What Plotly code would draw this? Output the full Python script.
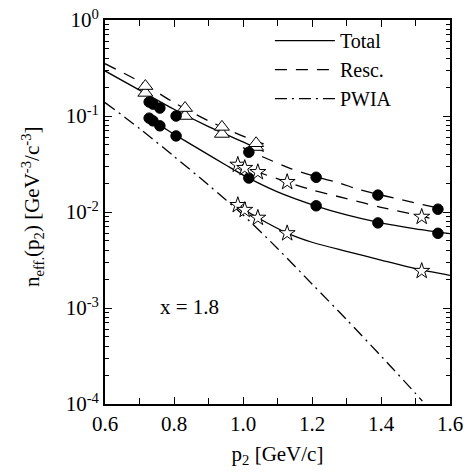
import plotly.graph_objects as go

# ---------------- data ----------------
# Theory curves
tri_curve_p = [0.60, 0.70, 0.80, 0.90, 1.00, 1.06]
tri_total_curve = [0.295, 0.186, 0.1175, 0.0776, 0.0537, 0.0427]
tri_resc_curve = [0.351, 0.229, 0.138, 0.0891, 0.0617, 0.0513]

circ_total_p = [0.72, 0.76, 0.80, 0.875, 0.95, 1.01, 1.10, 1.21, 1.30, 1.39, 1.50, 1.60]
circ_total_curve = [0.0955, 0.0794, 0.0646, 0.0447, 0.0309, 0.0232, 0.0162, 0.01161,
                    0.00933, 0.00785, 0.00668, 0.00596]
circ_resc_p = [1.00, 1.06, 1.14, 1.21, 1.28, 1.34, 1.48, 1.58]
circ_resc_curve = [0.0468, 0.0372, 0.0282, 0.0234, 0.0200, 0.0170, 0.0129, 0.0107]

star_resc_p = [0.98, 1.04, 1.13, 1.20, 1.30, 1.40, 1.50, 1.56]
star_resc_curve = [0.0316, 0.0263, 0.0204, 0.0170, 0.0138, 0.0112, 0.00933, 0.00832]
star_total_p = [0.986, 1.006, 1.043, 1.128, 1.20, 1.30, 1.40, 1.50, 1.60]
star_total_curve = [0.01183, 0.0105, 0.00871, 0.00603, 0.00484, 0.00389, 0.00316,
                    0.00257, 0.00219]

pwia_p = [0.60, 0.70, 0.80, 0.90, 1.00, 1.10, 1.20, 1.30, 1.40, 1.50, 1.52]
pwia_curve = [0.138, 0.0741, 0.0380, 0.0191, 0.00933, 0.00417, 0.00178, 0.000759,
              0.000316, 0.000129, 0.000107]

# Point symbols
circ_x = [0.728, 0.739, 0.759, 0.806, 1.017, 1.212, 1.391, 1.565]
circ_resc = [0.140, 0.133, 0.121, 0.100, 0.042, 0.023, 0.015, 0.0107]
circ_total = [0.095, 0.089, 0.079, 0.062, 0.0226, 0.0116, 0.0077, 0.0060]

tri_x = [0.717, 0.832, 0.939, 1.038]
tri_resc = [0.205, 0.121, 0.077, 0.052]
tri_total = [0.174, 0.100, 0.065, 0.0475]

star_x = [0.985, 1.005, 1.043, 1.128, 1.518]
star_resc = [0.031, 0.0287, 0.026, 0.0205, 0.0089]
star_total = [0.0118, 0.0105, 0.0087, 0.0060, 0.00243]

x_ticks = [0.6, 0.8, 1.0, 1.2, 1.4, 1.6]
x_ticklabels = ["0.6", "0.8", "1.0", "1.2", "1.4", "1.6"]
x_minor = [0.7, 0.9, 1.1, 1.3, 1.5]
y_ticks = [1e-4, 1e-3, 1e-2, 1e-1, 1e0]
y_ticklabels = ["10<sup>-4</sup>", "10<sup>-3</sup>", "10<sup>-2</sup>",
                "10<sup>-1</sup>", "10<sup>0</sup>"]
y_minor = [m * d for d in [1e-4, 1e-3, 1e-2, 1e-1] for m in range(2, 10)]

FONT = "Liberation Serif"
LW = 1.3
DASH = "12px,9px"
DASHDOT = "12px,5px,2px,5px"

fig = go.Figure()

def line(x, y, dash, name=None, show=False):
    fig.add_trace(go.Scatter(
        x=x, y=y, mode="lines", name=name, showlegend=show,
        line=dict(color="black", width=LW, dash=dash, shape="spline", smoothing=0.8),
        hoverinfo="skip"))

line(tri_curve_p, tri_total_curve, "solid", "Total", True)
line(tri_curve_p, tri_resc_curve, DASH, "Resc.", True)
line(pwia_p, pwia_curve, DASHDOT, "PWIA", True)
line(circ_total_p, circ_total_curve, "solid")
line(circ_resc_p, circ_resc_curve, DASH)
line(star_resc_p, star_resc_curve, DASH)
line(star_total_p, star_total_curve, "solid")

def pts(x, y, symbol, size, fill):
    fig.add_trace(go.Scatter(
        x=x, y=y, mode="markers", showlegend=False,
        marker=dict(symbol=symbol, size=size, color=fill,
                    line=dict(color="black", width=1))))

pts(tri_x, tri_total, "triangle-up", 13, "white")
pts(tri_x, tri_resc, "triangle-up", 13, "white")
pts(circ_x, circ_resc, "circle", 10.5, "black")
pts(circ_x, circ_total, "circle", 10.5, "black")
pts(star_x, star_resc, "star", 12, "white")
pts(star_x, star_total, "star", 12, "white")

fig.add_annotation(x=0.846, y=-2.99, xref="x", yref="y", text="x = 1.8",
                   showarrow=False, font=dict(family=FONT, size=21, color="black"))

# y-axis title placed as a rotated annotation
fig.add_annotation(x=-0.212, y=0.515, xref="paper", yref="paper", textangle=-90,
                   text="n<sub>eff.</sub>(p<sub>2</sub>) [GeV<sup>-3</sup>/c<sup>-3</sup>]",
                   showarrow=False, xanchor="center", yanchor="middle",
                   font=dict(family=FONT, size=21, color="black"))

axis_common = dict(showline=True, linecolor="black", linewidth=1.7, mirror="allticks",
                   ticks="inside", ticklen=7, tickwidth=1, tickcolor="black",
                   showgrid=False, zeroline=False, automargin=False,
                   tickfont=dict(family=FONT, size=21, color="black"))

fig.update_xaxes(range=[0.6, 1.6], tickvals=x_ticks, ticktext=x_ticklabels,
                 minor=dict(tickvals=x_minor, ticks="inside", ticklen=6, tickcolor="black"),
                 title=dict(text="p<sub>2</sub> [GeV/c]", font=dict(family=FONT, size=21),
                            standoff=11),
                 **axis_common)
fig.update_yaxes(type="log", range=[-4, 0], tickvals=y_ticks, ticktext=y_ticklabels,
                 minor=dict(tickvals=y_minor, ticks="inside", ticklen=4, tickcolor="black"),
                 **axis_common)

fig.update_layout(
    width=464, height=475,
    margin=dict(l=105, r=14, t=20, b=71),
    paper_bgcolor="white", plot_bgcolor="white",
    font=dict(family=FONT, size=21, color="black"),
    legend=dict(x=0.478, y=0.997, xanchor="left", yanchor="top", bgcolor="rgba(0,0,0,0)",
                itemwidth=60, font=dict(family=FONT, size=20), tracegroupgap=0),
)

fig.write_html("out.html", config={"displayModeBar": False},
               post_script="document.body.style.margin='0px';document.body.style.overflow='hidden';")
